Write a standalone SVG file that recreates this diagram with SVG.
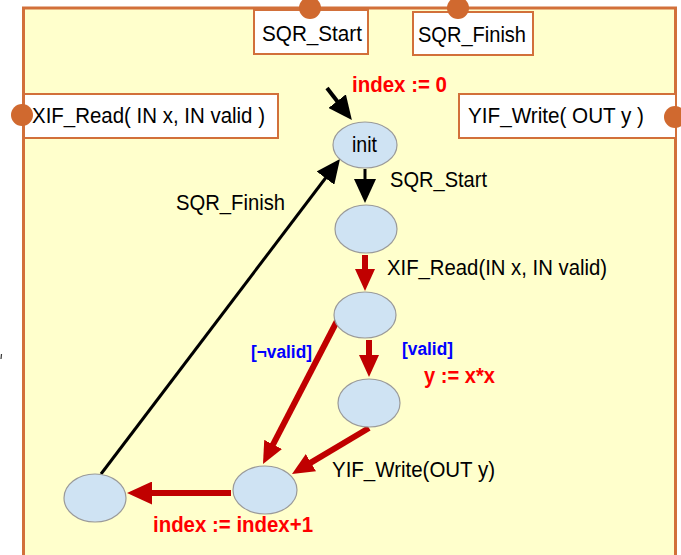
<svg xmlns="http://www.w3.org/2000/svg" width="681" height="555" viewBox="0 0 681 555">
  <style>
    .frame { fill: #FFFFCC; stroke: #D2703A; stroke-width: 3; }
    .box { fill: #FFFFFF; stroke: #D2703A; stroke-width: 2; }
    .port { fill: #D0692F; }
    .state { fill: #CFE3F3; stroke: #9A9A9A; stroke-width: 1.2; }
    .txt { font-family: "Liberation Sans", Arial, sans-serif; font-size: 22px; fill: #000; }
    .act { font-family: "Liberation Sans", Arial, sans-serif; font-size: 22px; font-weight: bold; fill: #FF0000; }
    .grd { font-family: "Liberation Sans", Arial, sans-serif; font-size: 18px; font-weight: bold; fill: #0000FF; }
    .blk { fill: none; stroke: #000; }
    .red { fill: none; stroke: #C00000; stroke-width: 6; }
  </style>
  <defs>
    <marker id="headBlack" markerUnits="userSpaceOnUse" markerWidth="24" markerHeight="22" refX="2" refY="11" orient="auto">
      <path d="M0,0 L24,11 L0,22 z" fill="#000"/>
    </marker>
    <marker id="headRed" markerUnits="userSpaceOnUse" markerWidth="22" markerHeight="20" refX="2" refY="10" orient="auto">
      <path d="M0,0 L22,10 L0,20 z" fill="#C00000"/>
    </marker>
    <marker id="headRedBig" markerUnits="userSpaceOnUse" markerWidth="25" markerHeight="23" refX="2" refY="11.5" orient="auto">
      <path d="M0,0 L25,11.5 L0,23 z" fill="#C00000"/>
    </marker>
  </defs>

  <!-- component body -->
  <g id="component">
    <rect class="frame" x="23.5" y="8" width="652" height="560"/>
  </g>

  <!-- interface boxes with their ports -->
  <g id="port-sqr-start">
    <rect class="box" x="254" y="10" width="114" height="44"/>
    <circle class="port" cx="310" cy="8" r="11"/>
    <text class="txt" x="262" y="41" textLength="100" lengthAdjust="spacingAndGlyphs">SQR_Start</text>
  </g>
  <g id="port-sqr-finish">
    <rect class="box" x="413" y="12" width="120" height="43"/>
    <circle class="port" cx="458" cy="8" r="11"/>
    <text class="txt" x="418" y="42" textLength="108" lengthAdjust="spacingAndGlyphs">SQR_Finish</text>
  </g>
  <g id="port-xif-read">
    <rect class="box" x="24" y="94" width="254" height="44"/>
    <circle class="port" cx="22" cy="115" r="11"/>
    <text class="txt" x="32" y="123" textLength="233" lengthAdjust="spacingAndGlyphs">XIF_Read( IN x, IN valid )</text>
  </g>
  <g id="port-yif-write">
    <rect class="box" x="459" y="94" width="217" height="44"/>
    <circle class="port" cx="675" cy="117" r="11"/>
    <text class="txt" x="468" y="123" textLength="176" lengthAdjust="spacingAndGlyphs">YIF_Write( OUT y )</text>
  </g>

  <!-- transitions -->
  <g id="connectors">
    <line class="blk" stroke-width="4" x1="327" y1="88" x2="338.4" y2="102.7" marker-end="url(#headBlack)"/>
    <line class="blk" stroke-width="3" x1="365" y1="169" x2="365" y2="181" marker-end="url(#headBlack)"/>
    <line class="red" x1="365" y1="255" x2="365" y2="271" marker-end="url(#headRed)"/>
    <line class="red" x1="369" y1="340" x2="369" y2="357" marker-end="url(#headRed)"/>
    <line class="red" x1="337" y1="321" x2="272.2" y2="446.2" marker-end="url(#headRed)"/>
    <line class="red" x1="369" y1="428" x2="309.2" y2="463.7" marker-end="url(#headRed)"/>
    <line class="red" x1="231" y1="493" x2="150" y2="493" marker-end="url(#headRedBig)"/>
    <line class="blk" stroke-width="3" x1="101" y1="474" x2="326.7" y2="176.5" marker-end="url(#headBlack)"/>
  </g>

  <!-- transition labels -->
  <g id="labels">
    <text class="act" x="352" y="92" textLength="95" lengthAdjust="spacingAndGlyphs">index := 0</text>
    <text class="txt" x="390" y="187" textLength="97" lengthAdjust="spacingAndGlyphs">SQR_Start</text>
    <text class="txt" x="176" y="210" textLength="109" lengthAdjust="spacingAndGlyphs">SQR_Finish</text>
    <text class="txt" x="387" y="275" textLength="220" lengthAdjust="spacingAndGlyphs">XIF_Read(IN x, IN valid)</text>
    <text class="grd" x="251" y="358" textLength="61" lengthAdjust="spacingAndGlyphs">[¬valid]</text>
    <text class="grd" x="402" y="355" textLength="51" lengthAdjust="spacingAndGlyphs">[valid]</text>
    <text class="act" x="424" y="383" textLength="71" lengthAdjust="spacingAndGlyphs">y := x*x</text>
    <text class="txt" x="332" y="477" textLength="163" lengthAdjust="spacingAndGlyphs">YIF_Write(OUT y)</text>
    <text class="act" x="153" y="532" textLength="160" lengthAdjust="spacingAndGlyphs">index := index+1</text>
  </g>

  <!-- states -->
  <g id="state-init">
    <ellipse class="state" cx="365" cy="145" rx="32" ry="23"/>
    <text class="txt" x="352" y="152" textLength="25" lengthAdjust="spacingAndGlyphs">init</text>
  </g>
  <g id="state-started">
    <ellipse class="state" cx="366" cy="229" rx="31" ry="24"/>
  </g>
  <g id="state-read">
    <ellipse class="state" cx="365" cy="315" rx="31" ry="23"/>
  </g>
  <g id="state-computed">
    <ellipse class="state" cx="369" cy="403" rx="31" ry="24"/>
  </g>
  <g id="state-written">
    <ellipse class="state" cx="265" cy="490" rx="32" ry="24"/>
  </g>
  <g id="state-next">
    <ellipse class="state" cx="95" cy="498" rx="31" ry="24"/>
  </g>

  <!-- small stray mark at the left margin -->
  <line x1="1.5" y1="354" x2="1" y2="359" stroke="#333" stroke-width="1.2"/>
</svg>
